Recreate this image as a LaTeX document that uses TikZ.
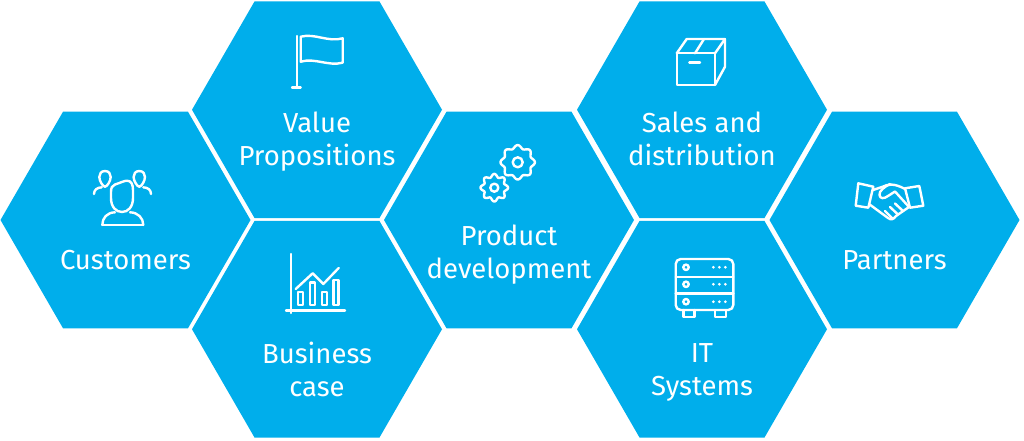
\documentclass[tikz,border=0pt]{standalone}
\usepackage{fontspec}
\setmainfont{Fira Sans}
\usepackage{tikz}
\usetikzlibrary{shapes.geometric}
\definecolor{hexblue}{RGB}{0,174,235}
\tikzset{
  hexcell/.style={regular polygon,regular polygon sides=6,fill=hexblue,
    minimum size=250pt,inner sep=0pt,outer sep=0pt},
  hexlabel/.style={text=white,align=center,font=\fontsize{27.5}{33}\selectfont,inner sep=0pt},
  iconline/.style={draw=white,line width=2.4pt,line join=round,line cap=round}
}
\begin{document}
\begin{tikzpicture}[x=1pt,y=-1pt]
\useasboundingbox (0,0) rectangle (1024,441);
\foreach \name/\x/\y/\dy/\txt in {
  customers/125.5/220/40/{Customers},
  value/317/109.75/31.5/{Value\\Propositions},
  business/317/329.25/40/{Business\\case},
  product/509/220/34.5/{Product\\development},
  sales/702/109.75/29.5/{Sales and\\distribution},
  systems/702/329.25/43.5/{IT\\Systems},
  partners/894.5/220/40.5/{Partners}}{
  \node[hexcell] (\name) at (\x,\y) {};
  \node[hexlabel] (\name label) at ([yshift=-\dy pt]\name.center) {\txt};
}
% customers icon
\draw[iconline] (111,198) .. controls (111,207) and (116,212) .. (122,212) .. controls (128,212) and (133,207) .. (133,198)
  -- (133,190) .. controls (133,184) and (131,180.7) .. (127,180.7) .. controls (124,180.7) and (120,183) .. (115,184.5)
  .. controls (112,185.5) and (111,188) .. (111,192) -- cycle;
\draw[iconline] (102.3,225) .. controls (102.3,218) and (107,212.5) .. (115,212.3);
\draw[iconline] (143.3,225) .. controls (143.3,218) and (138,212.5) .. (130,212.3);
\draw[iconline] (102.3,225) -- (143.3,225);
\draw[iconline] (105,171) .. controls (101,171) and (99.3,174) .. (99.3,177) .. controls (99.3,181) and (103,186.7) .. (105,186.7)
  .. controls (107,186.7) and (110.7,181) .. (110.7,177) .. controls (110.7,174) and (109,171) .. (105,171) -- cycle;
\draw[iconline] (139.3,171) .. controls (135.3,171) and (133.6,174) .. (133.6,177) .. controls (133.6,181) and (137.3,186.7) .. (139.3,186.7)
  .. controls (141.3,186.7) and (145,181) .. (145,177) .. controls (145,174) and (143.3,171) .. (139.3,171) -- cycle;
\draw[iconline] (94,194) .. controls (94,190) and (97,187.5) .. (101.7,187.3);
\draw[iconline] (151,194) .. controls (151,190) and (148,187.5) .. (143.3,187.3);
% flag icon
\draw[iconline] (296.7,36) -- (296.7,88);
\draw[iconline] (292,87.7) -- (300.7,87.7);
\draw[iconline,line cap=butt] (300.7,36.7) .. controls (315,33) and (328,42.5) .. (342.7,38.3) -- (342.7,62.7)
  .. controls (328,66.5) and (315,57.5) .. (300.7,61.7) -- cycle;
% chart icon
\draw[iconline] (290.7,254) -- (290.7,313);
\draw[iconline] (286,310.3) -- (345,310.3);
\foreach \bx/\by in {298/291.7,310/282.3,321.7/291.7,333.3/280}{
  \draw[iconline,line cap=butt] (\bx,\by) rectangle (\bx+5,305);
}
\draw[iconline] (295.7,289) -- (312.7,273.3) -- (323.3,284) -- (338.7,268);
% gear icon
\foreach \cx/\cy/\ra/\rb in {517.7/162.3/15.6/5,494.3/187.7/12.2/4}{
  \draw[iconline] plot[domain=0:360,samples=121,smooth] ({\cx+(\ra+1.6*cos(8*\x))*cos(\x)},{\cy+(\ra+1.6*cos(8*\x))*sin(\x)});
  \draw[iconline] (\cx,\cy) circle[radius=\rb];
}
% box icon
\draw[iconline] (676.7,53.3) rectangle (715,85);
\draw[iconline] (676.7,53.3) -- (686.7,39) -- (725,39) -- (725,66.7) -- (715,85);
\draw[iconline] (715,53.3) -- (725,39);
\draw[iconline] (695,53.3) -- (704,39);
\draw[iconline] (689.3,62.7) -- (700,62.7);
% server icon
\draw[iconline,rounded corners=5pt] (675.7,259) rectangle (733.3,310);
\foreach \sy in {276.7,293.3}{
  \draw[iconline] (675.7,\sy) -- (733.3,\sy);
}
\foreach \sy in {267.3,284.3,301.7}{
  \draw[iconline] (686,\sy) circle[radius=2.7];
  \foreach \sx in {713.3,719.3,725.3}{
    \fill[white] (\sx,\sy) circle[radius=1.5];
  }
}
\draw[iconline] (683.3,310) -- (683.3,316.7) -- (694.3,316.7) -- (694.3,310);
\draw[iconline] (715,310) -- (715,316.7) -- (725.7,316.7) -- (725.7,310);
% handshake icon
\draw[iconline] (858.3,183.3) -- (873.3,186.7) -- (868.3,207.7) -- (855.7,205.7) -- cycle;
\draw[iconline] (905,188.3) -- (919.3,186) -- (923.3,205.7) -- (910,207.7) -- cycle;
\draw[iconline] (873,190) -- (882,187) .. controls (888,184) and (894,183) .. (905,189);
\draw[iconline] (890,184) .. controls (884,187) and (879,191) .. (879.5,195) .. controls (880,199) and (884,199) .. (888,196) -- (895,191.5) -- (909,207);
\draw[iconline] (869,204) -- (888,218) .. controls (891,220) and (893,220) .. (896,216) -- (909,207);
\draw[iconline] (885,211) -- (892,218);
\draw[iconline] (890,207) -- (898,214.5);
\draw[iconline] (895,203.5) -- (903,211);
\end{tikzpicture}
\end{document}
